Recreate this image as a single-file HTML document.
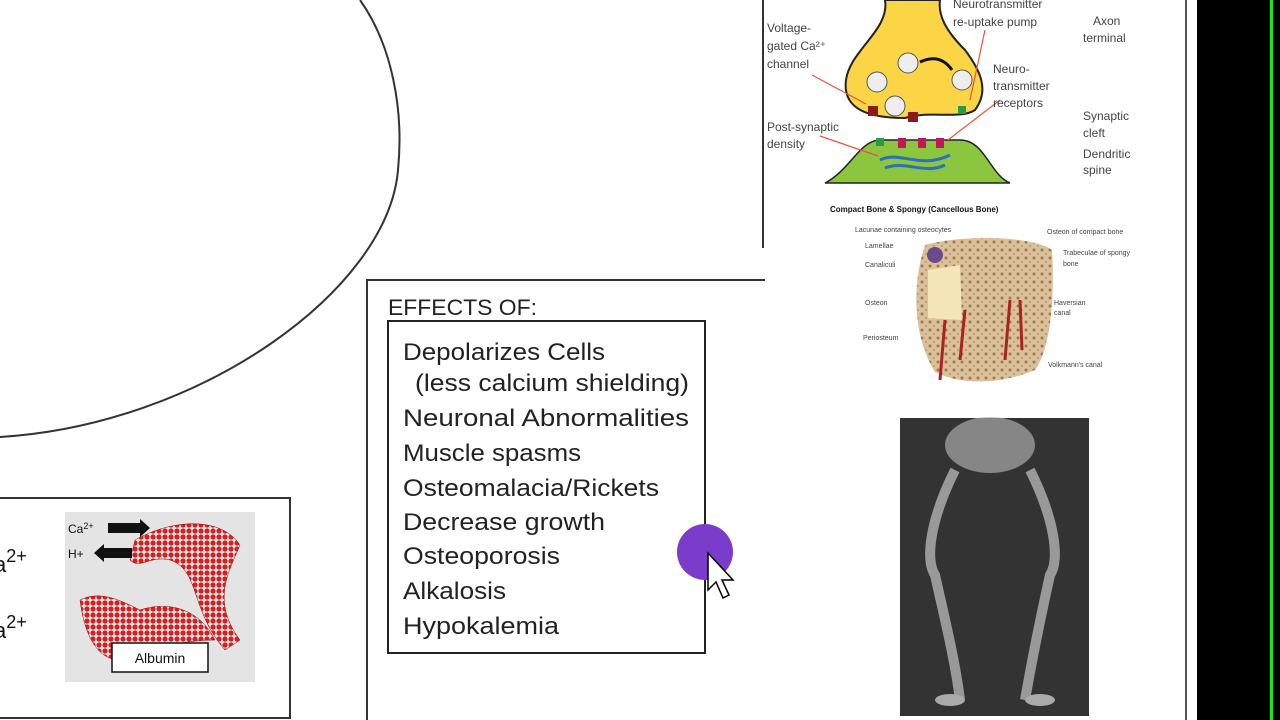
<!DOCTYPE html>
<html><head><meta charset="utf-8"><style>
html,body{margin:0;padding:0;background:#fff;}
svg{display:block;}
</style></head><body>
<svg width="1280" height="720" viewBox="0 0 1280 720" xmlns="http://www.w3.org/2000/svg" font-family="Liberation Sans, sans-serif">
<defs>
<pattern id="hel" width="6" height="6" patternUnits="userSpaceOnUse">
<rect width="6" height="6" fill="#e8e8e8"/>
<circle cx="3" cy="3" r="2.6" fill="#d42020"/>
</pattern>
<pattern id="spg" width="8" height="8" patternUnits="userSpaceOnUse">
<rect width="8" height="8" fill="#dcc09a"/>
<circle cx="2" cy="2" r="1.5" fill="#9a7a55"/>
<circle cx="6" cy="6" r="1" fill="#b8966c"/>
</pattern>
</defs>
<rect width="1280" height="720" fill="#fff"/>
<rect x="1197" y="0" width="83" height="720" fill="#000"/>
<rect x="1270" y="0" width="3" height="720" fill="#19e619"/>
<line x1="1186" y1="0" x2="1186" y2="720" stroke="#555" stroke-width="2"/>
<path d="M360 0 C 392 45, 404 110, 398 170 C 388 290, 200 425, 0 437" fill="none" stroke="#333" stroke-width="2"/>
<rect x="-2" y="498" width="292" height="220" fill="none" stroke="#333" stroke-width="2"/>
<text x="-6" y="572" font-size="22" fill="#111">a<tspan dy="-10" font-size="18">2+</tspan></text>
<text x="-6" y="638" font-size="22" fill="#111">a<tspan dy="-10" font-size="18">2+</tspan></text>
<rect x="65" y="512" width="190" height="170" fill="#e4e4e4"/>
<g fill="url(#hel)" stroke="#900" stroke-width="0.5">
<path d="M135 540 C 170 520, 220 515, 240 545 C 230 570, 210 600, 240 640 L 225 650 C 190 610, 200 570, 170 560 C 150 555, 140 570, 130 560 Z"/>
<path d="M80 600 C 100 590, 120 600, 140 610 C 170 600, 200 610, 215 640 C 180 640, 150 650, 120 660 C 100 660, 85 640, 80 600 Z"/>
</g>
<polygon points="108,523 140,523 140,519 150,528 140,537 140,533 108,533" fill="#111"/>
<polygon points="132,548 104,548 104,544 94,553 104,562 104,558 132,558" fill="#111"/>
<text x="68" y="533" font-size="12" fill="#111">Ca<tspan dy="-4" font-size="9">2+</tspan></text>
<text x="68" y="558" font-size="12" fill="#111">H+</text>
<rect x="112" y="643" width="96" height="29" fill="#fff" stroke="#111" stroke-width="1.5"/>
<text x="160" y="663" font-size="14" text-anchor="middle" fill="#111">Albumin</text>
<path d="M367 720 L367 280 L765 280" fill="none" stroke="#333" stroke-width="2"/>
<line x1="763" y1="0" x2="763" y2="248" stroke="#333" stroke-width="2"/>
<text x="388" y="315" font-size="22" fill="#222" textLength="149" lengthAdjust="spacingAndGlyphs">EFFECTS OF:</text>
<rect x="388" y="321" width="317" height="332" fill="none" stroke="#222" stroke-width="2"/>
<g font-size="24" fill="#222">
<text x="403" y="360" textLength="202" lengthAdjust="spacingAndGlyphs">Depolarizes Cells</text>
<text x="415" y="391" textLength="274" lengthAdjust="spacingAndGlyphs">(less calcium shielding)</text>
<text x="403" y="426" textLength="286" lengthAdjust="spacingAndGlyphs">Neuronal Abnormalities</text>
<text x="403" y="461" textLength="178" lengthAdjust="spacingAndGlyphs">Muscle spasms</text>
<text x="403" y="496" textLength="256" lengthAdjust="spacingAndGlyphs">Osteomalacia/Rickets</text>
<text x="403" y="530" textLength="202" lengthAdjust="spacingAndGlyphs">Decrease growth</text>
<text x="403" y="564" textLength="157" lengthAdjust="spacingAndGlyphs">Osteoporosis</text>
<text x="403" y="599" textLength="103" lengthAdjust="spacingAndGlyphs">Alkalosis</text>
<text x="403" y="634" textLength="156" lengthAdjust="spacingAndGlyphs">Hypokalemia</text>
</g>
<circle cx="705" cy="552" r="28" fill="#7b3ccc"/>
<path d="M708 553 L708 590 L716 582 L723 598 L729 595 L722 580 L733 580 Z" fill="#fff" stroke="#000" stroke-width="1.5"/>
<path d="M885 0 C 890 30, 850 50, 846 80 C 842 110, 870 118, 905 118 C 930 110, 960 120, 975 110 C 990 90, 980 70, 965 50 C 945 30, 938 15, 940 0 Z" fill="#fbd545" stroke="#222" stroke-width="2"/>
<path d="M825 183 C 850 170, 860 140, 880 140 L960 140 C 985 140, 990 175, 1010 183 Z" fill="#8cc63f" stroke="#222" stroke-width="1.5"/>
<g fill="#eee" stroke="#555"><circle cx="908" cy="63" r="10"/><circle cx="877" cy="82" r="10"/><circle cx="962" cy="80" r="10"/><circle cx="895" cy="106" r="10"/></g>
<path d="M920 62 C 935 55, 945 60, 952 70" stroke="#111" stroke-width="3" fill="none"/>
<g fill="#8b1a1a"><rect x="868" y="106" width="10" height="10"/><rect x="908" y="112" width="10" height="10"/></g>
<g fill="#2a9a4a"><rect x="958" y="106" width="8" height="8"/><rect x="876" y="138" width="8" height="8"/></g>
<g stroke="#e8553a" stroke-width="1.2" fill="none"><path d="M812 75 L866 104"/><path d="M820 136 L878 156"/><path d="M1000 100 L948 140"/><path d="M985 30 L970 100"/></g>
<path d="M880 160 C 900 150, 920 170, 950 155 M885 168 C 905 160, 925 175, 945 165" stroke="#2a6fc0" stroke-width="3" fill="none"/>
<g fill="#c2185b"><rect x="898" y="138" width="8" height="10"/><rect x="918" y="138" width="8" height="10"/><rect x="936" y="138" width="8" height="10"/></g>
<g fill="#444" font-size="12">
<text x="767" y="32">Voltage-</text><text x="767" y="50">gated Ca²⁺</text><text x="767" y="68">channel</text>
<text x="953" y="8">Neurotransmitter</text><text x="953" y="26">re-uptake pump</text>
<text x="993" y="73">Neuro-</text><text x="993" y="90">transmitter</text><text x="993" y="107">receptors</text>
<text x="767" y="131">Post-synaptic</text><text x="767" y="148">density</text>
<text x="1093" y="25">Axon</text><text x="1083" y="42">terminal</text>
<text x="1083" y="120">Synaptic</text><text x="1083" y="137">cleft</text>
<text x="1083" y="158">Dendritic</text><text x="1083" y="174">spine</text>
</g>
<text x="830" y="212" font-size="8" font-weight="bold" fill="#111">Compact Bone &amp; Spongy (Cancellous Bone)</text>
<path d="M925 245 C 960 235, 1030 235, 1052 250 C 1055 300, 1050 350, 1035 370 C 1000 385, 960 385, 935 372 C 915 340, 910 290, 925 245 Z" fill="url(#spg)"/>
<path d="M928 270 L960 265 L962 320 L928 318 Z" fill="#f3e6b8"/>
<circle cx="935" cy="255" r="8" fill="#6a4a8a"/>
<g stroke="#a22" stroke-width="3" fill="none"><path d="M940 380 L945 320"/><path d="M1005 360 L1010 300"/><path d="M1022 350 L1020 300"/><path d="M960 360 L965 310"/></g>
<g font-size="7" fill="#444">
<text x="855" y="232">Lacunae containing osteocytes</text><text x="865" y="248">Lamellae</text><text x="865" y="267">Canaliculi</text>
<text x="865" y="305">Osteon</text><text x="863" y="340">Periosteum</text>
<text x="1047" y="234">Osteon of compact bone</text><text x="1063" y="255">Trabeculae of spongy</text><text x="1063" y="266">bone</text>
<text x="1054" y="305">Haversian</text><text x="1054" y="315">canal</text><text x="1048" y="367">Volkmann's canal</text>
</g>
<rect x="900" y="418" width="189" height="298" fill="#333"/>
<ellipse cx="990" cy="445" rx="45" ry="28" fill="#aaa" opacity="0.7"/>
<path d="M955 470 C 930 520, 925 560, 935 575 C 945 620, 955 660, 960 700" stroke="#999" stroke-width="10" fill="none"/>
<path d="M1030 470 C 1055 520, 1060 560, 1050 575 C 1040 620, 1032 660, 1025 700" stroke="#999" stroke-width="10" fill="none"/>
<ellipse cx="950" cy="700" rx="15" ry="6" fill="#aaa"/><ellipse cx="1040" cy="700" rx="15" ry="6" fill="#aaa"/>
</svg>
</body></html>
